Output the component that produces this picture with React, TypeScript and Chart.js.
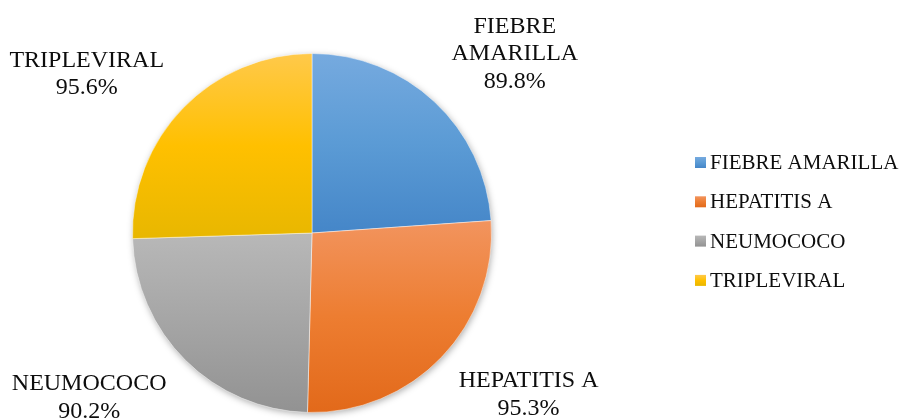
import React, { useEffect, useRef } from "react";
import { Chart, registerables } from "chart.js";

Chart.register(...registerables);

const categories = ["FIEBRE AMARILLA", "HEPATITIS A", "NEUMOCOCO", "TRIPLEVIRAL"];
// slice sizes (share of the pie, %)
const sliceShares = [23.9, 26.5, 24.1, 25.5];
// percentages printed in the data labels
const labelPercents = [89.8, 95.3, 90.2, 95.6];
const baseColors = ["#5B9BD5", "#ED7D31", "#A5A5A5", "#FFC000"];
const lightColors = ["#76AADF", "#F2945E", "#B8B8B8", "#FFC94B"];
const darkColors = ["#4586C8", "#E2691A", "#929292", "#E8B700"];

const SERIF = '"Liberation Serif", "Times New Roman", serif';

function sliceBounds(chart: any, i: number) {
  const area = chart.chartArea;
  const cx = (area.left + area.right) / 2;
  const cy = (area.top + area.bottom) / 2;
  const r = Math.min(area.width, area.height) / 2;
  const total = sliceShares.reduce((a, b) => a + b, 0);
  let a0 = -Math.PI / 2;
  for (let k = 0; k < i; k++) a0 += (sliceShares[k] / total) * 2 * Math.PI;
  const a1 = a0 + (sliceShares[i] / total) * 2 * Math.PI;
  const ys = [cy, cy + r * Math.sin(a0), cy + r * Math.sin(a1)];
  for (let q = Math.ceil(a0 / (Math.PI / 2)); (q * Math.PI) / 2 <= a1; q++) {
    ys.push(cy + r * Math.sin((q * Math.PI) / 2));
  }
  return { top: Math.min(...ys), bottom: Math.max(...ys) };
}

function gradientFor(ctx: CanvasRenderingContext2D, i: number, top: number, bottom: number) {
  const g = ctx.createLinearGradient(0, top, 0, bottom);
  g.addColorStop(0, lightColors[i]);
  g.addColorStop(0.5, baseColors[i]);
  g.addColorStop(1, darkColors[i]);
  return g;
}

const shadowPlugin = {
  id: "pieShadow",
  beforeDatasetsDraw(chart: any) {
    const arc = chart.getDatasetMeta(0).data[0];
    if (!arc) return;
    const { x, y, outerRadius } = arc.getProps(["x", "y", "outerRadius"], true);
    const ctx = chart.ctx;
    ctx.save();
    ctx.shadowColor = "rgba(0,0,0,0.35)";
    ctx.shadowBlur = 7;
    ctx.shadowOffsetX = 1;
    ctx.shadowOffsetY = 2;
    ctx.fillStyle = "#ffffff";
    ctx.beginPath();
    ctx.arc(x, y, outerRadius - 0.5, 0, Math.PI * 2);
    ctx.fill();
    ctx.restore();
  },
};

function wrapWords(ctx: CanvasRenderingContext2D, text: string, maxWidth: number) {
  const words = text.split(" ");
  const lines: string[] = [];
  let cur = "";
  for (const w of words) {
    const test = cur ? cur + " " + w : w;
    if (cur && ctx.measureText(test).width > maxWidth) {
      lines.push(cur);
      cur = w;
    } else cur = test;
  }
  if (cur) lines.push(cur);
  return lines;
}

const labelPlugin = {
  id: "outsideLabels",
  afterDatasetsDraw(chart: any) {
    const ctx: CanvasRenderingContext2D = chart.ctx;
    const meta = chart.getDatasetMeta(0);
    const labels = chart.data.labels as string[];
    const lh = 27.7;
    ctx.save();
    ctx.font = `24px ${SERIF}`;
    ctx.fillStyle = "#0d0d0d";
    ctx.textAlign = "center";
    ctx.textBaseline = "alphabetic";
    meta.data.forEach((arc: any, i: number) => {
      const { x, y, startAngle, endAngle, outerRadius } = arc.getProps(
        ["x", "y", "startAngle", "endAngle", "outerRadius"],
        true
      );
      const mid = (startAngle + endAngle) / 2;
      const ex = x + Math.cos(mid) * outerRadius;
      const ey = y + Math.sin(mid) * outerRadius;
      const right = Math.cos(mid) >= 0;
      const down = Math.sin(mid) >= 0;
      const lines = wrapWords(ctx, labels[i], 160);
      lines.push(labelPercents[i].toFixed(1) + "%");
      const w = Math.max(...lines.map((l) => ctx.measureText(l).width));
      const h = lines.length * lh;
      const cornerX = ex + (right ? 17 : -19);
      const cornerY = ey + (down ? 10 : -6);
      const left = right ? cornerX : cornerX - w;
      const top = down ? cornerY : cornerY - h;
      lines.forEach((l, k) => {
        ctx.fillText(l, left + w / 2, top + 20 + k * lh);
      });
    });
    ctx.restore();
  },
};

const legendPlugin = {
  id: "sideLegend",
  afterDraw(chart: any) {
    const ctx: CanvasRenderingContext2D = chart.ctx;
    const labels = chart.data.labels as string[];
    const boxX = 695;
    const box = 11;
    const textX = 710;
    const firstY = 162.5;
    const step = 39.3;
    ctx.save();
    ctx.font = `21px ${SERIF}`;
    ctx.textAlign = "left";
    ctx.textBaseline = "middle";
    labels.forEach((lab, i) => {
      const cy = firstY + i * step;
      ctx.fillStyle = gradientFor(ctx, i, cy - box / 2, cy + box / 2);
      ctx.fillRect(boxX, cy - box / 2, box, box);
      ctx.fillStyle = "#0d0d0d";
      ctx.fillText(lab, textX, cy + 1);
    });
    ctx.restore();
  },
};

export default function App() {
  const ref = useRef<HTMLCanvasElement | null>(null);
  useEffect(() => {
    if (!ref.current) return;
    const chart = new Chart(ref.current, {
      type: "pie",
      data: {
        labels: categories,
        datasets: [
          {
            data: sliceShares,
            backgroundColor: (c: any) => {
              const i = c.dataIndex;
              if (c.type !== "data" || !c.chart.chartArea) return baseColors[i ?? 0];
              const b = sliceBounds(c.chart, i);
              return gradientFor(c.chart.ctx, i, b.top, b.bottom);
            },
            borderColor: "rgba(255,255,255,0.45)",
            borderWidth: 1,
          },
        ],
      },
      options: {
        responsive: false,
        animation: false,
        devicePixelRatio: 1,
        layout: { padding: { left: 132, right: 411, top: 53, bottom: 7 } },
        plugins: {
          legend: { display: false },
          tooltip: { enabled: false },
          title: { display: false },
        },
      },
      plugins: [shadowPlugin, labelPlugin, legendPlugin],
    });
    return () => chart.destroy();
  }, []);
  return (
    <div style={{ position: "fixed", left: 0, top: 0, width: 903, height: 420, background: "#fff" }}>
      <canvas ref={ref} width={903} height={420} />
    </div>
  );
}
